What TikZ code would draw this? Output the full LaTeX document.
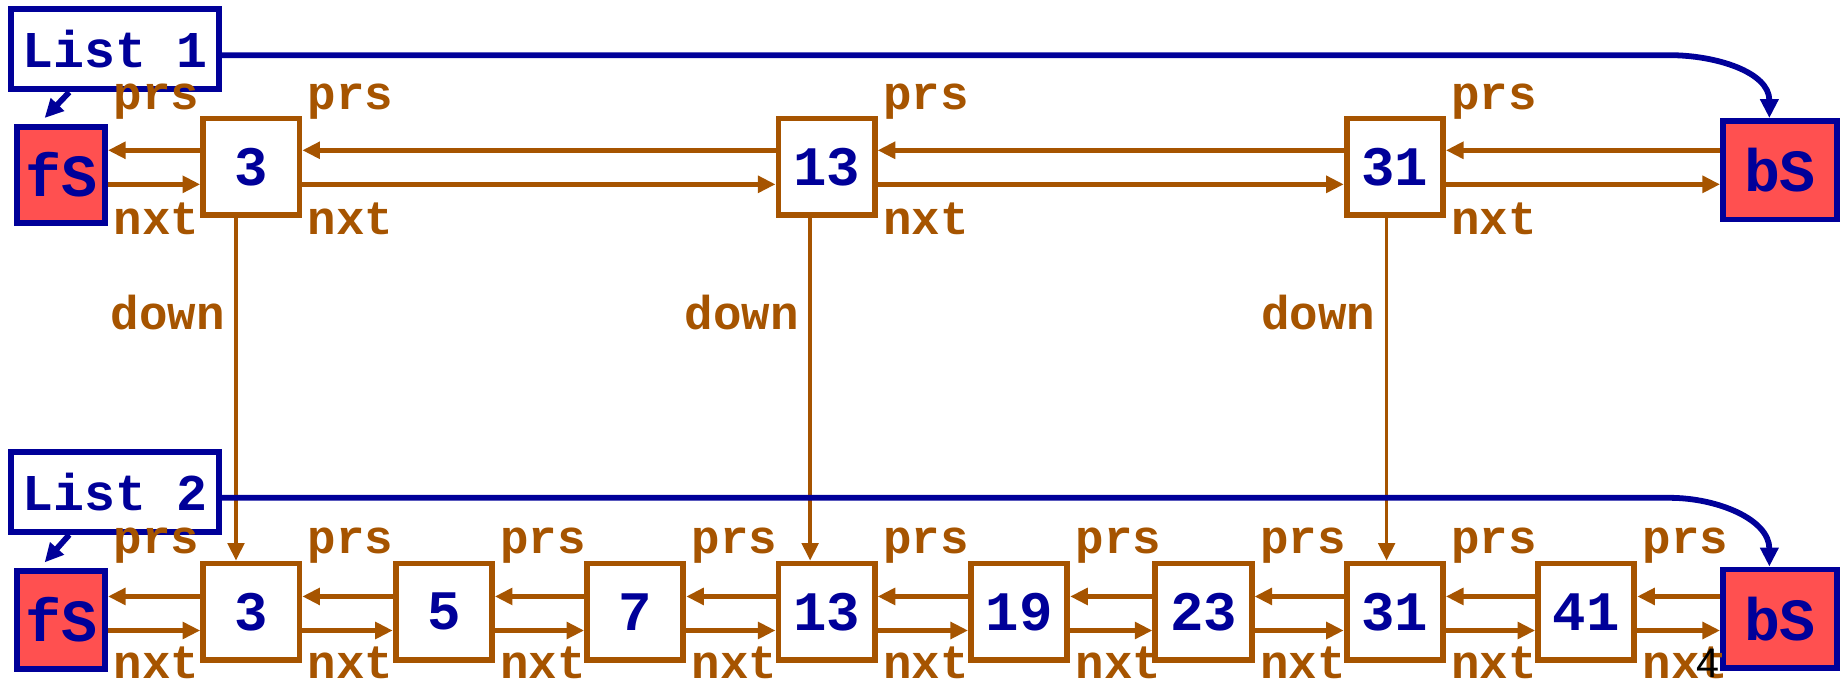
\documentclass[tikz,border=0pt]{standalone}
\usepackage{fontspec}
\setmonofont{Liberation Mono}
\newfontfamily\pagefont{Liberation Sans}
\usepackage{xcolor}
\definecolor{rust}{RGB}{166,84,0}
\definecolor{navy}{RGB}{0,0,153}
\definecolor{sentred}{RGB}{255,80,80}
\usepackage{tikz}
\usetikzlibrary{positioning,arrows.meta,calc}
\tikzstyle{elem} = [
    rectangle, text centered,
    minimum width=.82cm,
    minimum height=.82cm,
    inner sep=0pt,
    line width=1.4pt,
    draw=rust,
    fill=white,
    text=navy,
    font=\ttfamily\bfseries\fontsize{13.5}{15}\selectfont,
]
\tikzstyle{sentinel} = [
    elem,
    draw=navy,
    fill=sentred,
    line width=1.4pt,
    font=\ttfamily\bfseries\fontsize{14.5}{16}\selectfont,
]
\tikzstyle{listbox} = [
    elem,
    draw=navy,
    line width=1.4pt,
    minimum width=1.77cm,
    minimum height=.68cm,
    inner sep=1pt,
    font=\ttfamily\bfseries\fontsize{12.5}{15}\selectfont,
]
\tikzstyle{lbl} = [
    text=rust, inner sep=0pt,
    font=\ttfamily\bfseries\fontsize{11.5}{13}\selectfont,
]
\tikzstyle{arrow} = [->,>={Triangle[length=1.5mm,width=1.4mm]},rust,line width=1.1pt]
\tikzstyle{downarrow} = [arrow,line width=.9pt]
\tikzstyle{link} = [->,>={Triangle[length=1.6mm,width=1.5mm]},navy,line width=1.4pt]

\begin{document}
\begin{tikzpicture}[x=0.01cm,y=0.01cm]
    \useasboundingbox (0,0) rectangle (1568,578);
    \coordinate (prs1) at (0,450);
    \coordinate (nxt1) at (0,421);
    \coordinate (prs2) at (0,70);
    \coordinate (nxt2) at (0,41);
    \coordinate (prsl1) at (0,485);
    \coordinate (nxtl1) at (0,378);
    \coordinate (prsl2) at (0,107);
    \coordinate (nxtl2) at (0,0);
    \coordinate (dl) at (0,297);

    % list heads
    \node (L1) at (98,536) [listbox] {List 1};
    \node (L2) at (98,159) [listbox] {List 2};

    % sentinels
    \node (t0) at (52,429) [sentinel, minimum width=.75cm] {fS};
    \node (t4) at (1516,433) [sentinel, minimum width=.97cm, minimum height=.84cm] {bS};
    \node (b0) at (52,50) [sentinel, minimum width=.75cm, minimum height=.83cm] {fS};
    \node (b9) at (1516,51) [sentinel, minimum width=.97cm, minimum height=.84cm] {bS};

    % boxes
    \foreach \x/\v/\n in {1/214/3, 2/704/13, 3/1188/31} {
        \node (t\x) at (\v,436) [elem] {\n};
    }
    \foreach \x/\v/\n in {1/214/3, 2/378/5, 3/541/7, 4/704/13, 5/868/19, 6/1025/23, 7/1188/31, 8/1351/41} {
        \node (b\x) at (\v,57) [elem] {\n};
    }

    % arrows
    \foreach \x [evaluate=\x as \y using int(\x+1)] in {0,...,3} {
        \draw [arrow] (t\y.west |- prs1) to (t\x.east |- prs1);
        \draw [arrow] (t\x.east |- nxt1) to (t\y.west |- nxt1);
        \node [lbl, anchor=base west, xshift=.04cm] at (t\x.east |- prsl1) {prs};
        \node [lbl, anchor=base west, xshift=.04cm] at (t\x.east |- nxtl1) {nxt};
    }
    \foreach \x [evaluate=\x as \y using int(\x+1)] in {0,...,8} {
        \draw [arrow] (b\y.west |- prs2) to (b\x.east |- prs2);
        \draw [arrow] (b\x.east |- nxt2) to (b\y.west |- nxt2);
        \node [lbl, anchor=base west, xshift=.04cm] at (b\x.east |- prsl2) {prs};
        \node [lbl, anchor=base west, xshift=.04cm] at (b\x.east |- nxtl2) {nxt};
    }

    % down links
    \foreach \x/\y/\d in {1/1/13, 2/4/14, 3/7/7} {
        \coordinate (d\x) at ($(t\x.south)+(-\d,0)$);
        \draw [downarrow] (d\x) to (d\x |- b\y.north);
        \node [lbl, anchor=base east, xshift=-.09cm] at (d\x |- dl) {down};
    }

    % list pointers
    \draw [link] ($(L1.south west)+(52,0)$) to ($(t0.north)+(-14,5)$);
    \draw [link] ($(L2.south west)+(52,0)$) to ($(b0.north)+(-14,5)$);
    \draw [link] ($(L1.east)+(0,-5)$) -- ++(1233,0) to[out=0,in=90] ($(t4.north)+(-9,0)$);
    \draw [link] ($(L2.east)+(0,-5)$) -- ++(1233,0) to[out=0,in=90] ($(b9.north)+(-9,0)$);

    \node (pg) at (1455,13) [inner sep=0pt, font=\pagefont\fontsize{10}{12}\selectfont] {4};
\end{tikzpicture}
\end{document}
